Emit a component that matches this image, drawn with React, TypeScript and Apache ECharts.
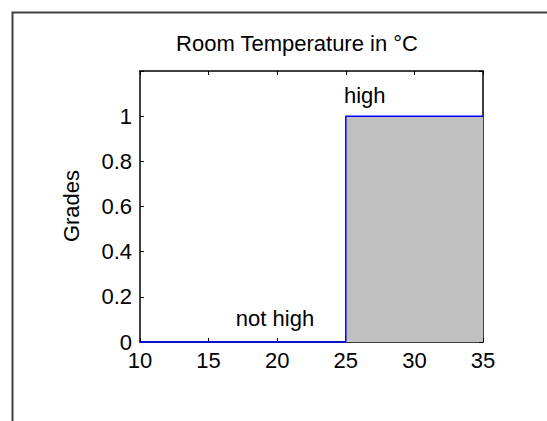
import React, { useEffect, useRef } from "react";
import * as echarts from "echarts";

// Membership function of the crisp set "high" over room temperature
const temperature = [10, 25, 25, 35];
const grades = [0, 0, 1, 1];

const xMin = 10;
const xMax = 35;
const xStep = 5;
const yMin = 0;
const yMax = 1.2;
const yStep = 0.2;
const yLabelTop = 1; // labels above this value are left blank

const titleText = "Room Temperature in \u00B0C";
const yName = "Grades";
const highLabel = "high";
const notHighLabel = "not high";

const FONT = "'Liberation Sans', Arial, Helvetica, sans-serif";

export default function App() {
  const ref = useRef<HTMLDivElement | null>(null);

  useEffect(() => {
    document.body.style.margin = "0";
    if (!ref.current) return;
    const chart = echarts.init(ref.current, undefined, { renderer: "svg" });

    const data = temperature.map((t, i) => [t, grades[i]]);

    const baseX = {
      type: "value" as const,
      min: xMin,
      max: xMax,
      interval: xStep,
      splitLine: { show: false },
      axisLine: { show: true, onZero: false, lineStyle: { color: "#000", width: 1.5 } },
      axisTick: { show: true, inside: true, length: 4, lineStyle: { color: "#000", width: 1 } },
    };
    const baseY = {
      type: "value" as const,
      min: yMin,
      max: yMax,
      interval: yStep,
      splitLine: { show: false },
      axisLine: { show: true, onZero: false, lineStyle: { color: "#000", width: 1.5 } },
      axisTick: { show: true, inside: true, length: 4, lineStyle: { color: "#000", width: 1 } },
    };

    chart.setOption({
      animation: false,
      backgroundColor: "#ffffff",
      grid: { left: 140, top: 71, width: 343, height: 271, containLabel: false },
      xAxis: [
        {
          ...baseX,
          position: "bottom",
          axisLabel: { show: true, color: "#000", fontSize: 22, fontFamily: FONT, margin: 7 },
        },
        {
          ...baseX,
          position: "top",
          axisLabel: { show: false },
        },
      ],
      yAxis: [
        {
          ...baseY,
          position: "left",
          axisLabel: {
            show: true,
            color: "#000",
            fontSize: 22,
            fontFamily: FONT,
            margin: 8,
            formatter: (v: number) => (v > yLabelTop + 1e-6 ? "" : String(Math.round(v * 10) / 10)),
          },
        },
        {
          ...baseY,
          position: "right",
          axisLabel: { show: false },
        },
      ],
      series: [
        {
          type: "line",
          data,
          xAxisIndex: 0,
          yAxisIndex: 0,
          symbol: "none",
          clip: false,
          lineStyle: { color: "#0000ff", width: 1.5 },
          areaStyle: { color: "#c0c0c0", opacity: 1, origin: "start" },
          z: 2,
        },
      ],
      graphic: [
        {
          type: "rect",
          left: 10,
          top: 10,
          shape: { x: 0, y: 0, width: 1000, height: 1000 },
          style: { fill: "none", stroke: "#404040", lineWidth: 2 },
          silent: true,
          z: -1,
        },
        {
          type: "text",
          x: 297,
          y: 43,
          style: {
            text: titleText,
            fontSize: 22,
            fontFamily: FONT,
            fill: "#000",
            align: "center",
            verticalAlign: "middle",
          },
        },
        {
          type: "text",
          x: 71,
          y: 206,
          rotation: Math.PI / 2,
          style: {
            text: yName,
            fontSize: 22,
            fontFamily: FONT,
            fill: "#000",
            align: "center",
            verticalAlign: "middle",
          },
        },
        {
          type: "text",
          x: 344,
          y: 95,
          z: 10,
          style: {
            text: highLabel,
            fontSize: 22,
            fontFamily: FONT,
            fill: "#000",
            align: "left",
            verticalAlign: "middle",
          },
        },
        {
          type: "text",
          x: 275,
          y: 318,
          z: 10,
          style: {
            text: notHighLabel,
            fontSize: 22,
            fontFamily: FONT,
            fill: "#000",
            align: "center",
            verticalAlign: "middle",
          },
        },
      ],
    });

    return () => chart.dispose();
  }, []);

  return (
    <div
      ref={ref}
      style={{ position: "absolute", left: 0, top: 0, width: 547, height: 421 }}
    />
  );
}
